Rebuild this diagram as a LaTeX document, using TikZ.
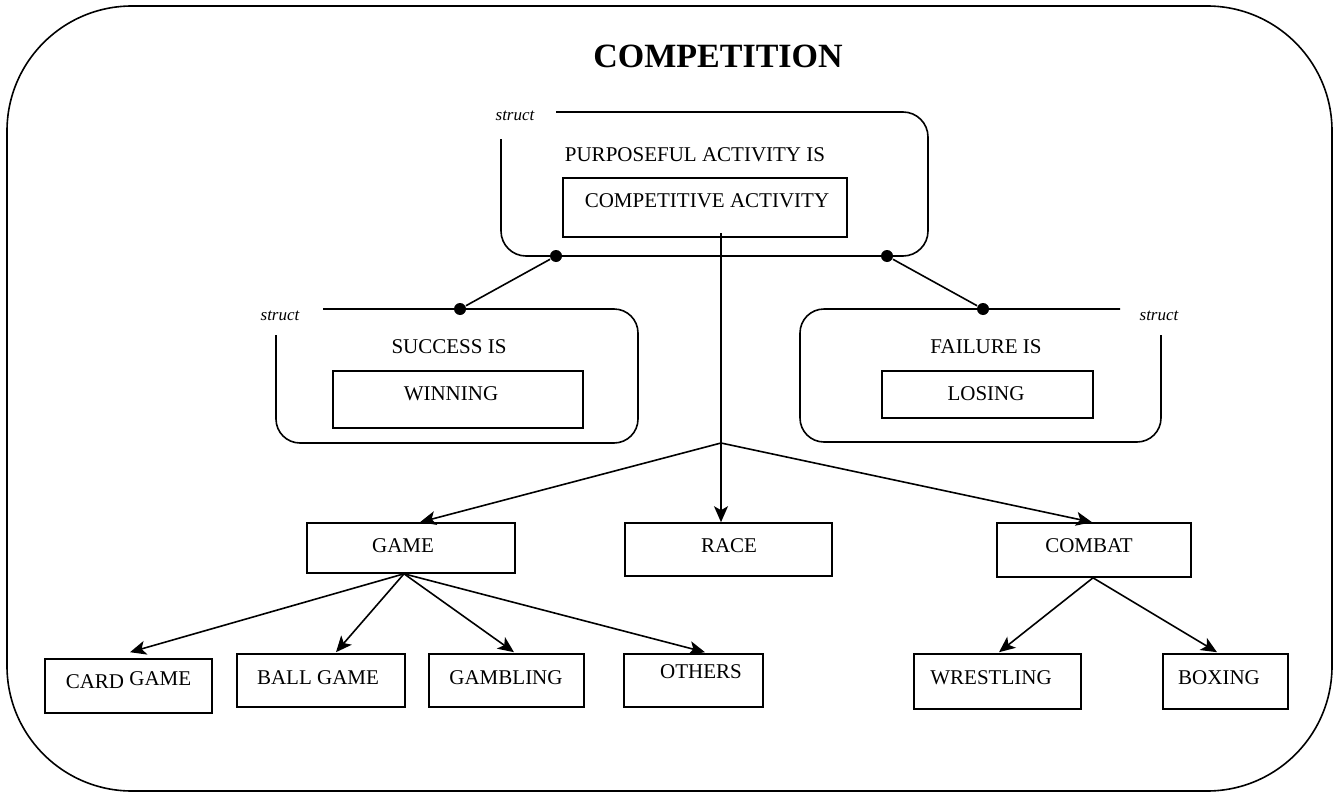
\documentclass[tikz,border=0pt]{standalone}
\usepackage{fontspec}
\setmainfont{Liberation Serif}
\usetikzlibrary{arrows.meta}
\begin{document}
\begin{tikzpicture}[x=1pt,y=-1pt,line width=1.6pt,
  box/.style={draw,inner sep=0pt},
  lbl/.style={inner sep=0pt,font=\fontsize{21}{25}\selectfont,text height=13.9pt,text depth=0pt},
  tag/.style={inner sep=0pt,font=\fontsize{17}{20}\selectfont\itshape},
  title/.style={inner sep=0pt,font=\fontsize{34}{40}\selectfont\bfseries,text height=22.5pt,text depth=0pt},
  dot/.style={circle,fill,inner sep=0pt,minimum size=12pt},
  arr/.style={-{Stealth[length=16pt,width=14pt,inset=4pt]}}]
\useasboundingbox (0,0) rectangle (1341,792);

% outer frame
\draw[rounded corners=125] (7,6) rectangle (1332,791);
\node[title] (ttl) at (718,56.5) {COMPETITION};

% top struct frame
\draw[rounded corners=25] (556,112) -- (928,112) -- (928,256) -- (501,256) -- (501,139);
\node[tag] (tag1) at (515,116) {struct};
\node[lbl] (purp) at (695,155) {PURPOSEFUL ACTIVITY IS};
\node[box,minimum width=284,minimum height=59] (ca) at (705,207.5) {};
\node[lbl] (tca) at (707,201) {COMPETITIVE ACTIVITY};
\node[dot] (d1) at (556,256) {};
\node[dot] (d2) at (887,256) {};

% success struct frame
\draw[rounded corners=24] (323,309) -- (638,309) -- (638,443) -- (276,443) -- (276,335);
\node[tag] (tag2) at (280,316) {struct};
\node[lbl] (succ) at (449,347) {SUCCESS IS};
\node[box,minimum width=250,minimum height=57] (win) at (458,399.5) {};
\node[lbl] (twin) at (451,394) {WINNING};
\node[dot] (d3) at (460,309) {};

% failure struct frame
\draw[rounded corners=24] (1120,309) -- (800,309) -- (800,442) -- (1161,442) -- (1161,335);
\node[tag] (tag3) at (1159,316) {struct};
\node[lbl] (fail) at (986,347) {FAILURE IS};
\node[box,minimum width=211,minimum height=47] (lose) at (987.5,394.5) {};
\node[lbl] (tlose) at (986,394) {LOSING};
\node[dot] (d4) at (983,309) {};

\draw (d1) -- (d3);
\draw (d2) -- (d4);

% second level
\node[box,minimum width=208,minimum height=50] (game) at (411,548) {};
\node[lbl] (tgame) at (403,546) {GAME};
\node[box,minimum width=207,minimum height=53] (race) at (728.5,549.5) {};
\node[lbl] (trace) at (729,546) {RACE};
\node[box,minimum width=194,minimum height=54] (combat) at (1094,550) {};
\node[lbl] (tcombat) at (1089,546) {COMBAT};

\coordinate (br) at (721,443);
\draw[arr] ([xshift=16pt,yshift=5pt]ca.south) -- ([xshift=-7.5pt]race.north);
\draw[arr] (br) -- ([xshift=9pt]game.north);
\draw[arr] (br) -- ([xshift=-2pt]combat.north);

% third level
\node[box,minimum width=167,minimum height=54] (card) at (128.5,686) {};
\node[lbl,anchor=base] (tcard) at (128.5,688) {CARD \raisebox{3pt}{GAME}};
\node[box,minimum width=168,minimum height=53] (ball) at (321,680.5) {};
\node[lbl] (tball) at (318,678) {BALL GAME};
\node[box,minimum width=155,minimum height=53] (gamb) at (506.5,680.5) {};
\node[lbl] (tgamb) at (506,678) {GAMBLING};
\node[box,minimum width=139,minimum height=53] (oth) at (693.5,680.5) {};
\node[lbl] (toth) at (701,672) {OTHERS};
\node[box,minimum width=167,minimum height=55] (wres) at (997.5,681.5) {};
\node[lbl] (twres) at (991,678) {WRESTLING};
\node[box,minimum width=125,minimum height=55] (boxg) at (1225.5,681.5) {};
\node[lbl] (tboxg) at (1219,678) {BOXING};

\draw[arr] ([xshift=-7pt]game.south) -- ([xshift=1.5pt,yshift=6pt]card.north);
\draw[arr] ([xshift=-7pt]game.south) -- ([xshift=15pt,yshift=1pt]ball.north);
\draw[arr] ([xshift=-7pt]game.south) -- ([xshift=7.5pt,yshift=1pt]gamb.north);
\draw[arr] ([xshift=-7pt]game.south) -- ([xshift=11.5pt,yshift=1pt]oth.north);
\draw[arr] ([xshift=-1pt]combat.south) -- ([xshift=1.5pt,yshift=1pt]wres.north);
\draw[arr] ([xshift=-1pt]combat.south) -- ([xshift=-8.5pt,yshift=1pt]boxg.north);
\end{tikzpicture}
\end{document}
